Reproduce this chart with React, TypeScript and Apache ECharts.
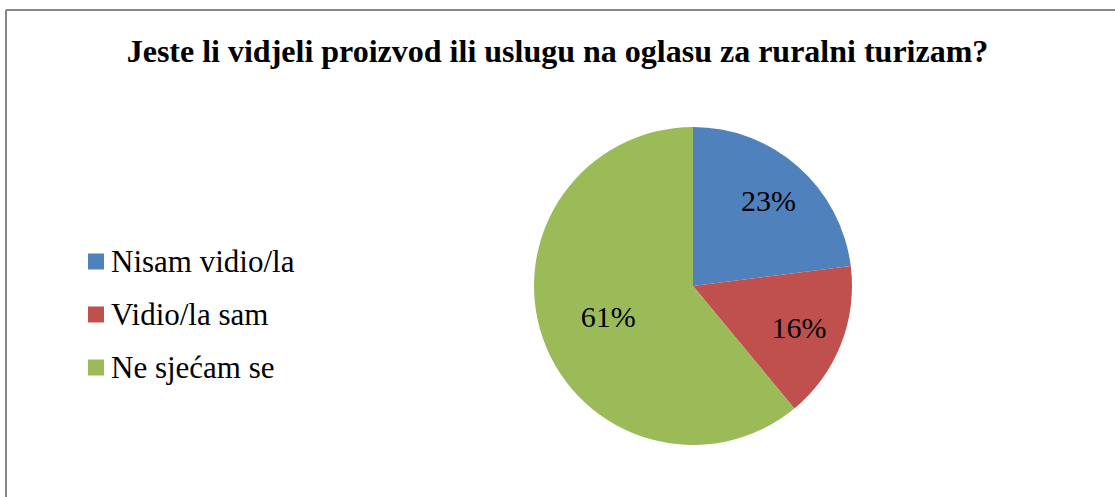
import React, { useEffect, useRef } from "react";
import * as echarts from "echarts";

const titleText = "Jeste li vidjeli proizvod ili uslugu na oglasu za ruralni turizam?";
const categories = ["Nisam vidio/la", "Vidio/la sam", "Ne sjećam se"];
const values = [23, 16, 61];
const colors = ["#4F81BD", "#C0504D", "#9BBB59"];
// which label ring each value's label sits on (0 = outer ring, 1 = inner ring)
const labelRing = [0, 0, 1];

const SERIF = "Liberation Serif";

export default function App() {
  const ref = useRef<HTMLDivElement>(null);
  useEffect(() => {
    document.body.style.margin = "0";
    const chart = echarts.init(ref.current!, null, { renderer: "svg" });
    const center = [693, 286];
    const mainData = categories.map((name, i) => ({
      name,
      value: values[i],
      itemStyle: { color: colors[i] },
    }));
    const labelSeries = (ring: number, radius: number) => ({
      type: "pie",
      center,
      radius: [0, radius],
      startAngle: 90,
      clockwise: true,
      silent: true,
      legendHoverLink: false,
      emphasis: { disabled: true },
      itemStyle: { color: "rgba(0,0,0,0)", borderWidth: 0 },
      labelLine: { show: false },
      data: categories.map((name, i) => ({
        name: name + "__l" + ring,
        value: values[i],
        label: {
          show: labelRing[i] === ring,
          position: "inside",
          formatter: "{c}%",
          color: "#000",
          fontFamily: SERIF,
          fontSize: 30,
        },
      })),
    });
    chart.setOption({
      animation: false,
      backgroundColor: "#fff",
      textStyle: { fontFamily: SERIF },
      title: {
        text: titleText,
        left: "center",
        top: 30,
        textStyle: {
          fontFamily: SERIF,
          fontWeight: "bold",
          fontSize: 32,
          lineHeight: 32,
          color: "#000",
        },
      },
      legend: {
        orient: "vertical",
        left: 83,
        top: 241,
        data: categories,
        icon: "rect",
        itemWidth: 16,
        itemHeight: 16,
        itemGap: 22,
        selectedMode: false,
        textStyle: {
          fontFamily: SERIF,
          fontSize: 31,
          lineHeight: 31,
          color: "#000",
          padding: [0, 0, 0, 2],
        },
      },
      graphic: [
        {
          type: "line",
          shape: { x1: 6, y1: 10, x2: 1115, y2: 10 },
          style: { stroke: "#868686", lineWidth: 2 },
        },
        {
          type: "line",
          shape: { x1: 6, y1: 10, x2: 6, y2: 497 },
          style: { stroke: "#868686", lineWidth: 2 },
        },
      ],
      series: [
        {
          type: "pie",
          center,
          radius: [0, 159],
          startAngle: 90,
          clockwise: true,
          label: { show: false },
          labelLine: { show: false },
          emphasis: { disabled: true },
          data: mainData,
        },
        labelSeries(0, 222),
        labelSeries(1, 174),
      ],
    });
    return () => chart.dispose();
  }, []);
  return <div ref={ref} style={{ width: 1115, height: 497 }} />;
}
